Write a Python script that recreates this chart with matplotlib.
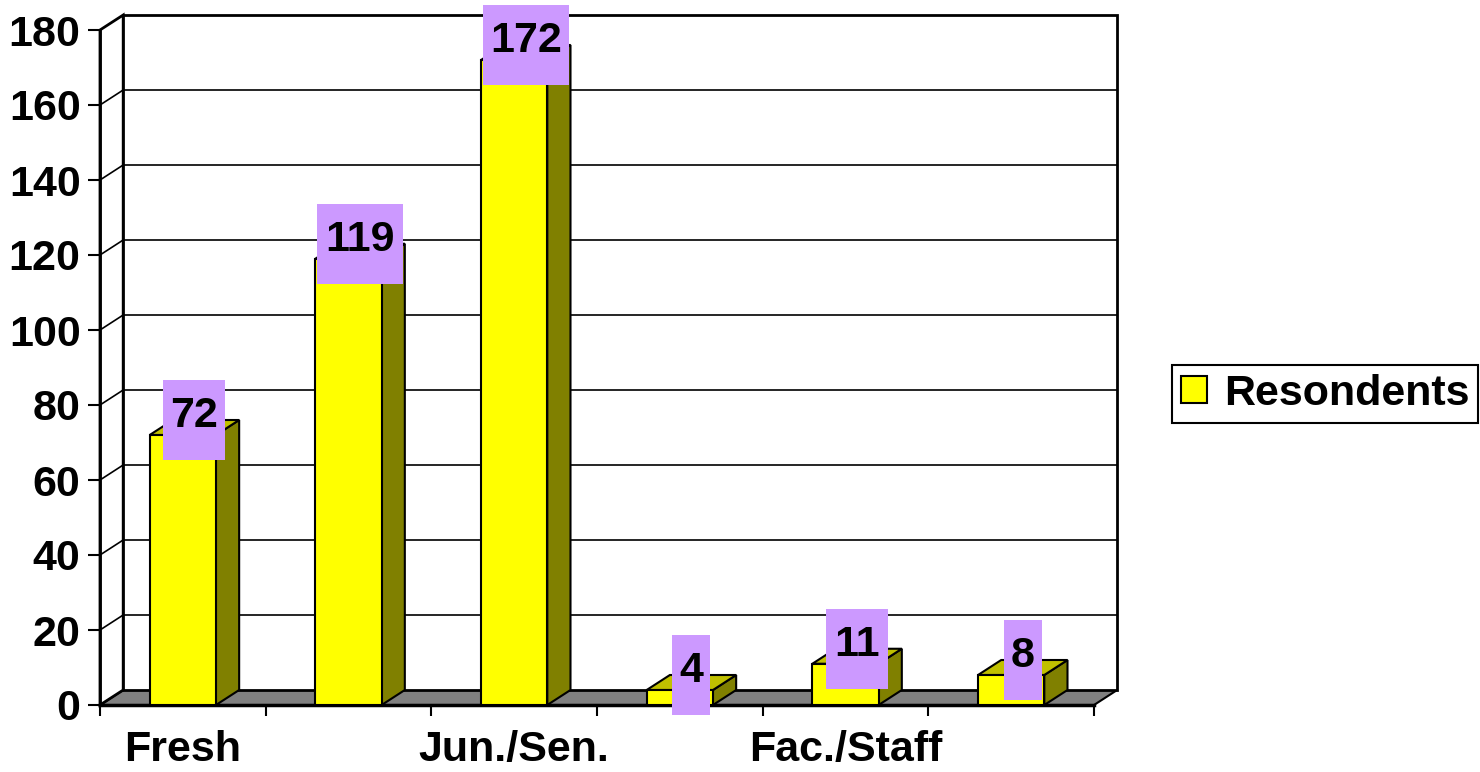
import matplotlib.pyplot as plt
from matplotlib.patches import Polygon, Rectangle
import matplotlib

matplotlib.rcParams['font.family'] = 'Liberation Sans'
matplotlib.rcParams['font.weight'] = 'bold'

categories = ['Fresh', '', 'Jun./Sen.', '', 'Fac./Staff', '']
values = [72, 119, 172, 4, 11, 8]
labels = ['72', '119', '172', '4', '11', '8']
yticks = list(range(0, 181, 20))
series_name = 'Resondents'

DX, DY = 0.14, 4.0       # depth offset of the 3D look (category units, value units)
BW = 0.2                 # half bar width
FS = 31

fig = plt.figure(figsize=(14.8, 7.72), dpi=100)
ax = fig.add_axes([100 / 1480, 67 / 772, 994 / 1480, 675 / 772])
ax.set_xlim(-0.5, 5.5)
ax.set_ylim(0, 180)
ax.patch.set_visible(False)

px_x = 994 / 6      # pixels per category
px_y = 675 / 180    # pixels per value unit

x0, x1 = -0.5, 5.5
# floor
ax.add_patch(Polygon([(x0, 0), (x1, 0), (x1 + DX, DY), (x0 + DX, DY)], closed=True,
                     facecolor='#808080', edgecolor='black', lw=1.5, clip_on=False, zorder=1))
# left wall
ax.add_patch(Polygon([(x0, 0), (x0 + DX, DY), (x0 + DX, 180 + DY), (x0, 180)], closed=True,
                     facecolor='white', edgecolor='black', lw=2, clip_on=False, zorder=1))
# back wall
ax.add_patch(Polygon([(x0 + DX, DY), (x1 + DX, DY), (x1 + DX, 180 + DY), (x0 + DX, 180 + DY)],
                     closed=True, facecolor='white', edgecolor='black', lw=2, clip_on=False, zorder=1))
# gridlines
for t in yticks[1:-1]:
    ax.plot([x0, x0 + DX, x1 + DX], [t, t + DY, t + DY], color='black', lw=1.2,
            clip_on=False, zorder=2)
ax.plot([x0, x1], [0, 0], color='black', lw=2.5, clip_on=False, zorder=2)

# bars
for i, v in enumerate(values):
    l, r = i - BW, i + BW
    ax.add_patch(Polygon([(r, 0), (r + DX, DY), (r + DX, v + DY), (r, v)], closed=True,
                         facecolor='#808000', edgecolor='black', lw=1.5, clip_on=False, zorder=3))
    ax.add_patch(Polygon([(l, v), (r, v), (r + DX, v + DY), (l + DX, v + DY)], closed=True,
                         facecolor='#C0C000', edgecolor='black', lw=1.5, clip_on=False, zorder=3))
    ax.add_patch(Rectangle((l, 0), 2 * BW, v, facecolor='#FFFF00', edgecolor='black',
                           lw=1.5, clip_on=False, zorder=4))

# data labels
for i, (v, s) in enumerate(zip(values, labels)):
    w = (14 + 24 * len(s)) / px_x
    h = 80 / px_y
    cx, cy = i + DX / 2, v + DY
    ax.add_patch(Rectangle((cx - w / 2, cy - h / 2), w, h, facecolor='#CC99FF',
                           edgecolor='none', clip_on=False, zorder=5))
    ax.text(cx, cy + 1, s, ha='center', va='center', fontsize=FS, fontweight='bold',
            zorder=6, clip_on=False)

# axes
for side in ['top', 'right', 'bottom']:
    ax.spines[side].set_visible(False)
ax.spines['left'].set_linewidth(2)
ax.set_yticks(yticks)
ax.set_yticklabels([str(t) for t in yticks], fontsize=FS, fontweight='bold')
ax.tick_params(axis='y', length=9, width=1.5, pad=5)
ax.set_xticks(range(6))
ax.set_xticklabels(categories, fontsize=FS, fontweight='bold')
ax.set_xticks([k - 0.5 for k in range(7)], minor=True)
ax.tick_params(axis='x', which='major', length=0, pad=18)
ax.tick_params(axis='x', which='minor', length=8, width=1.5)

# legend
handle = Rectangle((0, 0), 1, 1, facecolor='#FFFF00', edgecolor='black', lw=1.5)
leg = fig.legend([handle], [series_name], loc='center', bbox_to_anchor=(1325 / 1480, 1 - 394 / 772),
                 prop={'size': FS, 'weight': 'bold'}, fancybox=False, edgecolor='black',
                 framealpha=1, handlelength=0.6, handleheight=0.6, handletextpad=0.4,
                 borderpad=0.2, borderaxespad=0)
leg.get_frame().set_linewidth(1.5)

fig.savefig('out.png', dpi=100)
